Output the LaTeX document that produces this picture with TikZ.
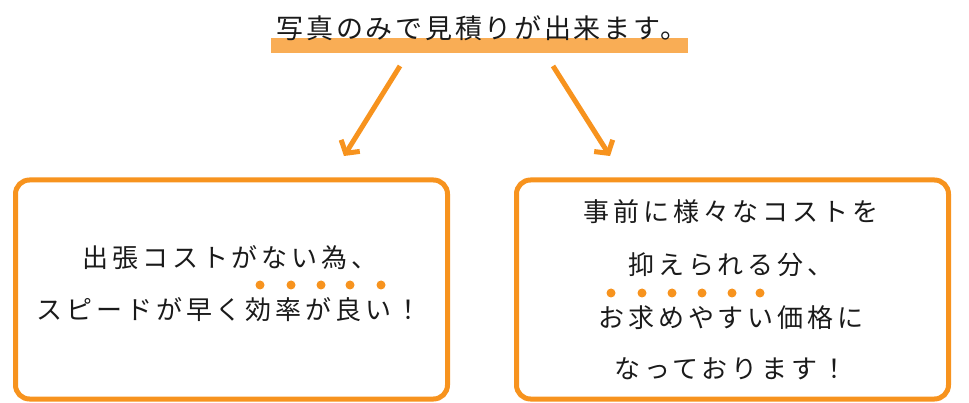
\documentclass[tikz,border=0pt]{standalone}
\usepackage{fontspec}
\usepackage{xcolor}
\usetikzlibrary{arrows.meta}
\newfontfamily\jpfont[LetterSpace=15]{Noto Sans CJK JP}
\newfontfamily\jptitlefont[LetterSpace=10]{Noto Sans CJK JP}
\definecolor{boxorange}{HTML}{F7931E}
\definecolor{barorange}{HTML}{F9AD55}
\definecolor{inkblack}{HTML}{1A1A1A}

\begin{document}
\begin{tikzpicture}[x=1pt,y=-1pt,
    frame/.style={draw=boxorange,line width=5pt,rounded corners=14pt,inner sep=0pt},
    arrowline/.style={draw=boxorange,line width=5pt,-{Straight Barb[length=9pt,width=22pt]}},
    line/.style={font=\jpfont\fontsize{26}{26}\selectfont,text=inkblack,inner sep=0pt},
    dot/.style={fill=boxorange}]
    \useasboundingbox (0,0) rectangle (969,403);

    % Title with highlight bar
    \node[fill=barorange,minimum width=417pt,minimum height=15pt,inner sep=0pt] (bar) at (479.5,45.5) {};
    \node[font=\jptitlefont\fontsize{27}{27}\selectfont,text=inkblack,inner sep=0pt] (title) at (482,28) {写真のみで見積りが出来ます。};

    % Boxes
    \node[frame,minimum width=432pt,minimum height=219pt] (leftbox) at (231.5,289.5) {};
    \node[frame,minimum width=432pt,minimum height=219pt] (rightbox) at (732.5,289.5) {};

    % Arrows
    \coordinate (lstart) at (400,66);
    \coordinate (ltip) at (344,156);
    \coordinate (rstart) at (553,66);
    \coordinate (rtip) at (610,156);
    \draw[arrowline] (lstart) -- (ltip);
    \draw[arrowline] (rstart) -- (rtip);

    % Left box text
    \node[line] (l1) at (230,258) {出張コストがない為、};
    \node[line] (l2) at (229,310) {スピードが早く効率が良い！};
    \foreach \x in {260,291,321,350,381}
      \fill[dot] (\x,285) circle (4.5pt);

    % Right box text
    \node[line] (r1) at (731,212) {事前に様々なコストを};
    \node[line] (r2) at (731,265) {抑えられる分、};
    \node[line] (r3) at (731,318) {お求めやすい価格に};
    \node[line] (r4) at (731,369) {なっております！};
    \foreach \x in {611,642,672,702,732,760}
      \fill[dot] (\x,293) circle (4.5pt);
\end{tikzpicture}
\end{document}
